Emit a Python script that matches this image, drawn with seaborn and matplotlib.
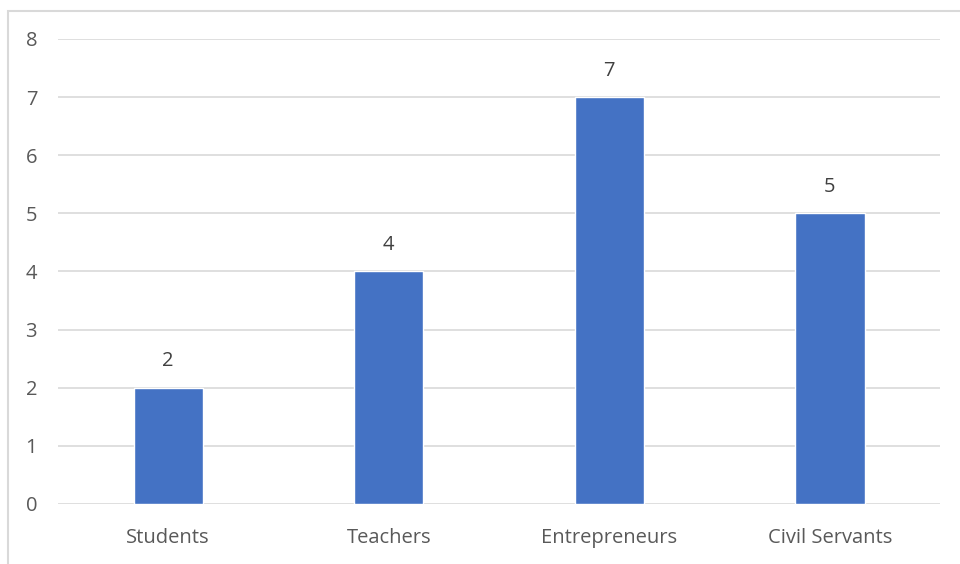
import matplotlib
matplotlib.use("Agg")
import matplotlib.pyplot as plt
import seaborn as sns
import pandas as pd
from matplotlib.patches import Rectangle

categories = ["Students", "Teachers", "Entrepreneurs", "Civil Servants"]
values = [2, 4, 7, 5]

df = pd.DataFrame({"group": categories, "count": values})

sns.set_theme(style="white")
plt.rcParams["font.family"] = ["Open Sans", "DejaVu Sans"]

text_color = "#595959"
grid_color = "#d9d9d9"
bar_color = "#4472c4"

fig = plt.figure(figsize=(9.6, 5.64), dpi=100)
ax = fig.add_axes([0.0604, 0.1064, 0.9188, 0.8245])

sns.barplot(data=df, x="group", y="count", color=bar_color, width=0.315,
            saturation=1, ax=ax)

ax.set_ylim(0, 8)
ax.set_xlim(-0.5, 3.5)
ax.set_yticks(range(0, 9))
ax.yaxis.grid(True, color=grid_color, linewidth=1.2)
ax.set_axisbelow(True)
for s in ax.spines.values():
    s.set_visible(False)
ax.set_xlabel("")
ax.set_ylabel("")
ax.tick_params(axis="both", length=0, labelsize=14.5, labelcolor=text_color)
ax.tick_params(axis="y", pad=15)
ax.tick_params(axis="x", pad=17)

for i, v in enumerate(values):
    ax.annotate(str(v), (i, v), xytext=(0, 19), textcoords="offset points",
                ha="center", va="center", fontsize=14.5, color="#404040")

# outer chart border (only top and left edges fall inside the image)
fig.patches.append(Rectangle((8 / 960, -10 / 564), 970 / 960, 563 / 564,
                             transform=fig.transFigure, fill=False,
                             edgecolor=grid_color, linewidth=1.5))

fig.savefig("out.png", dpi=100)
